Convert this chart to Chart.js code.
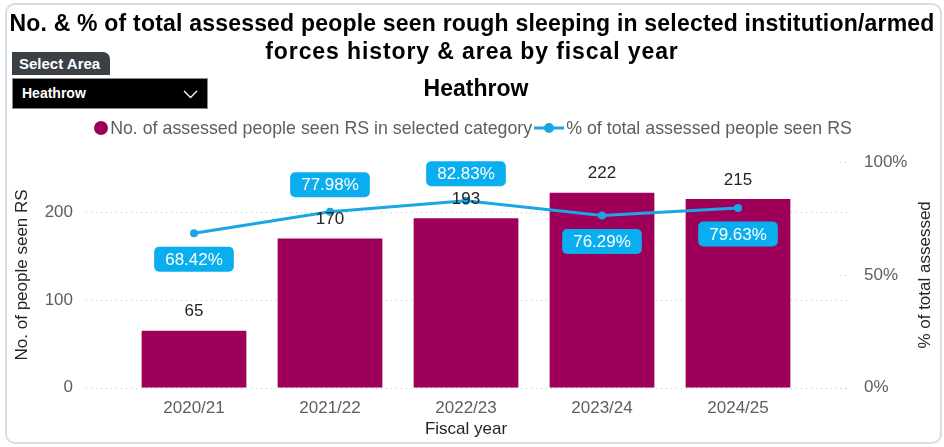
<!DOCTYPE html>
<html>
<head>
<meta charset="utf-8">
<script src="https://cdn.jsdelivr.net/npm/chart.js@4.4.1/dist/chart.umd.min.js"></script>
<style>
    html, body { margin: 0; padding: 0; background: #fff; }
    body { width: 944px; height: 447px; position: relative; overflow: hidden; font-family: "Liberation Sans", Arial, sans-serif; }
    .card { position: absolute; left: 5px; top: 3px; width: 937px; height: 441px; border: 2px solid #d5dde7; border-radius: 10px; box-sizing: border-box; }
    #comboChart { position: absolute; left: 0; top: 0; }
    .title { position: absolute; left: 0; top: 9px; width: 944px; text-align: center; font-weight: bold; font-size: 23px; letter-spacing: 0.2px; line-height: 28px; color: #000; white-space: nowrap; }
    .title .l2 { letter-spacing: 0.9px; }
    .subtitle { position: absolute; left: 4px; top: 75px; width: 944px; text-align: center; font-weight: bold; font-size: 23px; line-height: 26px; color: #000; }
    .tab { position: absolute; left: 12px; top: 52px; width: 98px; height: 23px; background: #3b4045; border-radius: 0 7px 0 0; color: #fff; font-weight: bold; font-size: 15px; line-height: 24px; padding-left: 7px; box-sizing: border-box; }
    .dropdown { position: absolute; left: 12px; top: 78px; width: 196px; height: 31px; background: #000; border: 1px solid #8a8a8a; box-sizing: border-box; color: #fff; font-weight: bold; font-size: 14px; line-height: 29px; padding-left: 9px; }
    .dropdown svg { position: absolute; right: 9px; top: 11px; }
    .legend { position: absolute; left: 0; top: 117px; width: 944px; height: 22px; display: flex; justify-content: center; align-items: center; font-size: 17.8px; color: #605e5c; padding-left: 2px; box-sizing: border-box; }
    .legend .dot { width: 14px; height: 14px; border-radius: 50%; background: #9e0059; margin-right: 2px; }
    .legend svg { margin: 0 2px 0 2px; }
</style>
</head>
<body>
<div class="card"></div>
<canvas id="comboChart" width="944" height="456"></canvas>
<div class="title">No. &amp; % of total assessed people seen rough sleeping in selected institution/armed<br><span class="l2">forces history &amp; area by fiscal year</span></div>
<div class="tab">Select Area</div>
<div class="dropdown">Heathrow
    <svg width="15" height="9"><polyline points="1,1 7.5,7.5 14,1" fill="none" stroke="#fff" stroke-width="1.3"/></svg>
</div>
<div class="subtitle">Heathrow</div>
<div class="legend">
    <span class="dot"></span><span>No. of assessed people seen RS in selected category</span>
    <svg width="30" height="14"><line x1="0" y1="7" x2="30" y2="7" stroke="#1aa6e4" stroke-width="3"/><circle cx="15" cy="7" r="5" fill="#1aa6e4"/></svg>
    <span>% of total assessed people seen RS</span>
</div>
<script>
// Data
const fiscalYears = ['2020/21', '2021/22', '2022/23', '2023/24', '2024/25'];
const peopleSeen = [65, 170, 193, 222, 215];
const pctSeen = [68.42, 77.98, 82.83, 76.29, 79.63];
const countTicks = [0, 100, 200];
const pctTicks = [0, 50, 100];

// Which side of the point each % label sits on (as in the report)
const pctLabelAbove = [false, true, true, false, false];

const BAR_COLOR = '#9e0059';
const LINE_COLOR = '#1aa6e4';
const BOX_COLOR = '#0aaeef';
const TICK_COLOR = '#605e5c';
const FONT = '"Liberation Sans", Arial, sans-serif';

// Dotted gridlines that run past the plot area like the Power BI visual
const wideGrid = {
    id: 'wideGrid',
    beforeDatasetsDraw(chart) {
        const ctx = chart.ctx;
        const area = chart.chartArea;
        const y = chart.scales.y;
        const y1 = chart.scales.y1;
        ctx.save();
        ctx.strokeStyle = '#c8c6c4';
        ctx.lineWidth = 1;
        ctx.setLineDash([1, 4]);
        countTicks.forEach(v => {
            const py = Math.round(y.getPixelForValue(v)) + 0.5;
            ctx.beginPath();
            ctx.moveTo(area.left - 40, py);
            ctx.lineTo(area.right + 44, py);
            ctx.stroke();
        });
        pctTicks.forEach(v => {
            const py = Math.round(y1.getPixelForValue(v)) + 0.5;
            ctx.beginPath();
            ctx.moveTo(area.right + 34, py);
            ctx.lineTo(area.right + 44, py);
            ctx.stroke();
        });
        ctx.restore();
    }
};

// Value labels on bars and % boxes on the line, plus right axis title
const valueLabels = {
    id: 'valueLabels',
    afterDatasetsDraw(chart) {
        const ctx = chart.ctx;
        const area = chart.chartArea;
        ctx.save();
        ctx.textAlign = 'center';
        ctx.textBaseline = 'middle';

        ctx.font = '17px ' + FONT;
        ctx.fillStyle = '#252423';
        chart.getDatasetMeta(1).data.forEach((bar, i) => {
            ctx.fillText(String(peopleSeen[i]), bar.x, bar.y - 19);
        });

        chart.getDatasetMeta(0).data.forEach((pt, i) => {
            const txt = pctSeen[i].toFixed(2) + '%';
            const cy = pt.y + (pctLabelAbove[i] ? -27 : 26);
            const w = ctx.measureText(txt).width + 22;
            const h = 25;
            ctx.fillStyle = BOX_COLOR;
            ctx.beginPath();
            ctx.roundRect(pt.x - w / 2, cy - h / 2, w, h, 5);
            ctx.fill();
            ctx.fillStyle = '#fff';
            ctx.fillText(txt, pt.x, cy + 1);
        });

        // right axis title reads bottom-to-top
        ctx.translate(925, (area.top + area.bottom) / 2);
        ctx.rotate(-Math.PI / 2);
        ctx.fillStyle = '#252423';
        ctx.fillText('% of total assessed', 0, 0);
        ctx.restore();
    }
};

const ctx = document.getElementById('comboChart').getContext('2d');
new Chart(ctx, {
    data: {
        labels: fiscalYears,
        datasets: [
            {
                type: 'line',
                label: '% of total assessed people seen RS',
                data: pctSeen,
                yAxisID: 'y1',
                borderColor: LINE_COLOR,
                backgroundColor: LINE_COLOR,
                borderWidth: 3,
                pointRadius: 4,
                pointBackgroundColor: LINE_COLOR,
                pointBorderWidth: 0,
                tension: 0,
                order: 0
            },
            {
                type: 'bar',
                label: 'No. of assessed people seen RS in selected category',
                data: peopleSeen,
                yAxisID: 'y',
                backgroundColor: BAR_COLOR,
                barPercentage: 0.77,
                categoryPercentage: 1,
                order: 1
            }
        ]
    },
    options: {
        responsive: false,
        animation: false,
        layout: { padding: { top: 162, left: 0, right: 0, bottom: 0 } },
        plugins: {
            legend: { display: false },
            tooltip: { enabled: false }
        },
        scales: {
            x: {
                grid: { display: false, drawTicks: false },
                border: { display: false },
                ticks: { color: TICK_COLOR, font: { size: 17, family: FONT }, padding: 10 },
                title: { display: true, text: 'Fiscal year', color: '#252423', font: { size: 17, family: FONT }, padding: { top: 0, bottom: 1 } },
                afterFit: s => { s.height = 53; }
            },
            y: {
                position: 'left',
                min: 0,
                max: 257,
                grid: { display: false, drawTicks: false },
                border: { display: false },
                ticks: {
                    stepSize: 100,
                    includeBounds: false,
                    color: TICK_COLOR,
                    font: { size: 17, family: FONT },
                    padding: 53
                },
                title: { display: true, text: 'No. of people seen RS', color: '#252423', font: { size: 17, family: FONT }, padding: { top: 12, bottom: 0 } },
                afterFit: s => { s.width = 126; }
            },
            y1: {
                position: 'right',
                min: 0,
                max: 100,
                grid: { display: false, drawTicks: false },
                border: { display: false },
                ticks: {
                    stepSize: 50,
                    color: TICK_COLOR,
                    font: { size: 17, family: FONT },
                    padding: 58,
                    callback: v => v + '%'
                },
                afterFit: s => { s.width = 138; }
            }
        }
    },
    plugins: [wideGrid, valueLabels]
});
</script>
</body>
</html>
